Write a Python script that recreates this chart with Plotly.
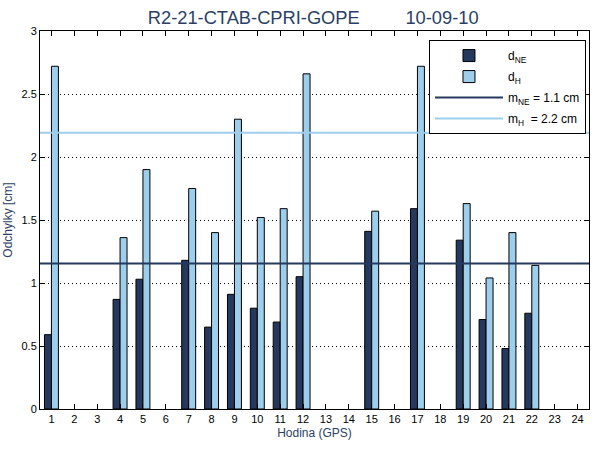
import plotly.graph_objects as go

hours = list(range(1, 25))
d_ne = [0.59, None, None, 0.87, 1.03, None, 1.18, 0.65, 0.91, 0.80, 0.69, 1.05,
        None, None, 1.41, None, 1.59, None, 1.34, 0.71, 0.48, 0.76, None, None]
d_h = [2.72, None, None, 1.36, 1.90, None, 1.75, 1.40, 2.30, 1.52, 1.59, 2.66,
       None, None, 1.57, None, 2.72, None, 1.63, 1.04, 1.40, 1.14, None, None]
m_ne = 1.155
m_h = 2.193
x_range = [0.5, 24.5]
y_ticks = [0, 0.5, 1, 1.5, 2, 2.5, 3]
y_ticklabels = ["0", "0.5", "1", "1.5", "2", "2.5", "3"]

dark = "#25385E"
light = "#9DCEEC"
navy_text = "#2B3F66"

fig = go.Figure()
fig.add_trace(go.Bar(x=hours, y=d_ne, name="d<sub>NE</sub>", legendgroup="a",
                     marker=dict(color=dark, line=dict(color="black", width=1))))
fig.add_trace(go.Bar(x=hours, y=d_h, name="d<sub>H</sub>", legendgroup="b",
                     marker=dict(color=light, line=dict(color="black", width=1))))
fig.add_trace(go.Scatter(x=x_range, y=[m_ne, m_ne], mode="lines", name="m<sub>NE</sub> = 1.1 cm",
                         legendgroup="c", line=dict(color=dark, width=2)))
fig.add_trace(go.Scatter(x=x_range, y=[m_h, m_h], mode="lines", name="m<sub>H</sub>\u00a0 = 2.2 cm",
                         legendgroup="d", line=dict(color=light, width=2)))

title = "R2-21-CTAB-CPRI-GOPE" + "\u00a0" * 9 + "10-09-10"

fig.update_layout(
    width=600, height=450,
    margin=dict(l=40, r=11, t=31, b=41, autoexpand=False),
    paper_bgcolor="white", plot_bgcolor="white",
    barmode="group", bargap=0.39, bargroupgap=0,
    font=dict(family="Liberation Sans, Arial, sans-serif", size=11, color="black"),
    title=dict(text=title, x=0.522, xanchor="center", y=0.962, yanchor="middle",
               font=dict(size=18.3, color=navy_text)),
    showlegend=True,
    legend=dict(x=0.9945, xanchor="right", y=0.976, yanchor="top",
                bordercolor="black", borderwidth=1, bgcolor="white",
                font=dict(size=12, color="black"), itemwidth=68,
                tracegroupgap=2),
    xaxis=dict(range=x_range, tickmode="array", tickvals=hours, ticktext=[str(h) for h in hours],
               ticks="inside", ticklen=5, tickcolor="black", showline=True, linecolor="black",
               linewidth=1, mirror="ticks", showgrid=False, zeroline=False, automargin=False,
               title=dict(text="Hodina (GPS)", font=dict(size=12, color=navy_text), standoff=4)),
    yaxis=dict(range=[0, 3], tickmode="array", tickvals=y_ticks, ticktext=y_ticklabels,
               ticks="inside", ticklen=5, tickcolor="black", showline=True, linecolor="black",
               linewidth=1, mirror="ticks", showgrid=True, gridcolor="black", griddash="1px,3px",
               gridwidth=1, zeroline=False, automargin=False,
               title=dict(text="Odchylky [cm]", font=dict(size=12, color=navy_text), standoff=6)),
)

fig.write_html("out.html")
